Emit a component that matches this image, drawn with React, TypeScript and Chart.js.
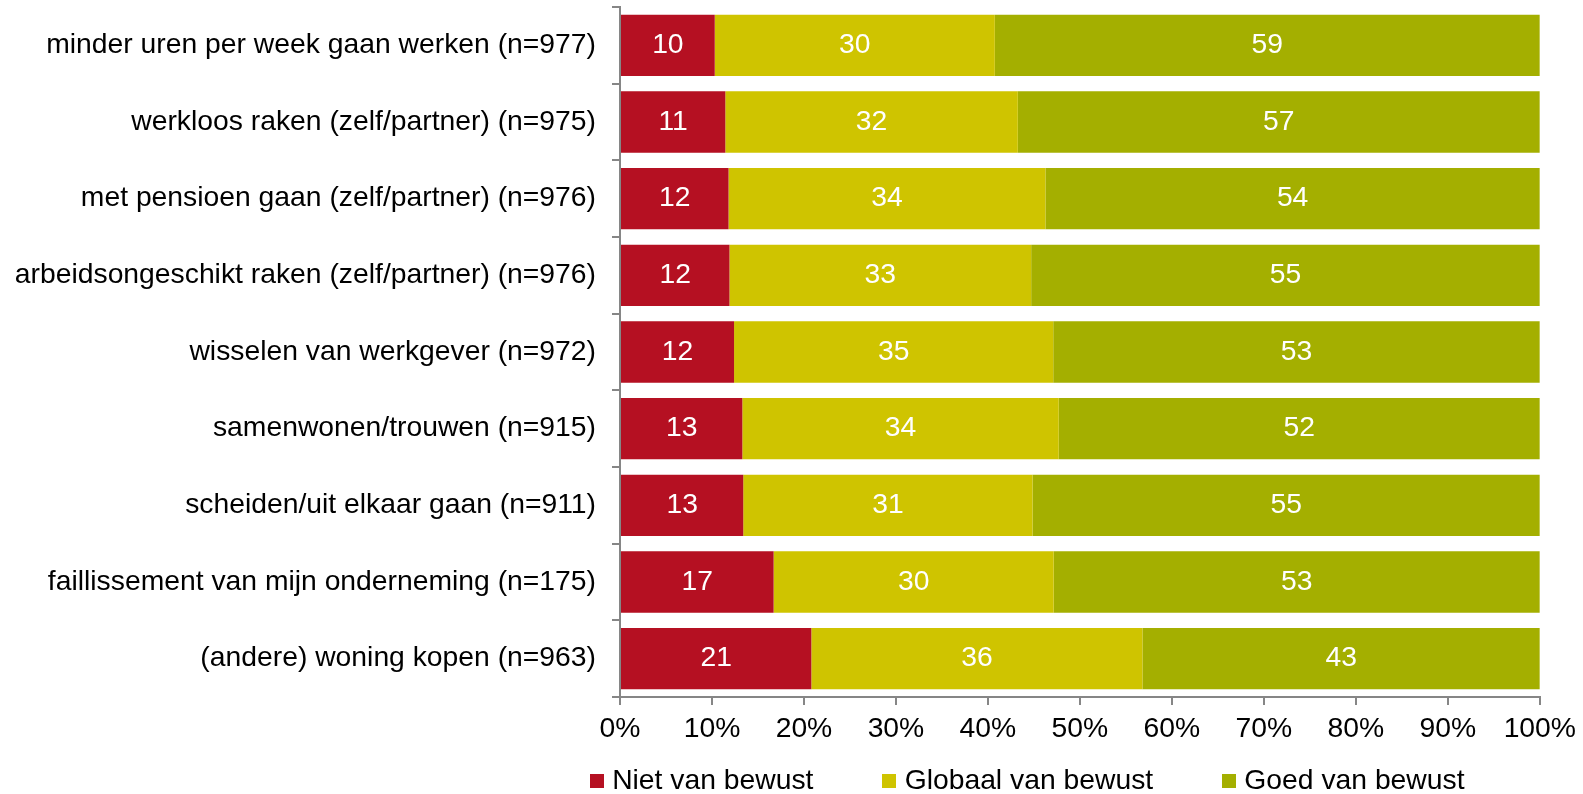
import React, { useEffect, useRef } from "react";
import { Chart, registerables } from "chart.js";

Chart.register(...registerables);

const categories = [
  "minder uren per week gaan werken (n=977)",
  "werkloos raken (zelf/partner) (n=975)",
  "met pensioen gaan (zelf/partner) (n=976)",
  "arbeidsongeschikt raken (zelf/partner) (n=976)",
  "wisselen van werkgever (n=972)",
  "samenwonen/trouwen (n=915)",
  "scheiden/uit elkaar gaan (n=911)",
  "faillissement van mijn onderneming (n=175)",
  "(andere) woning kopen (n=963)",
];

const nietVanBewust = [10.3, 11.45, 11.8, 11.9, 12.4, 13.3, 13.4, 16.7, 20.8];
const globaalVanBewust = [30.45, 31.8, 34.45, 32.8, 34.7, 34.4, 31.45, 30.45, 36.0];
const goedVanBewust = [59.25, 56.75, 53.75, 55.3, 52.9, 52.3, 55.15, 52.85, 43.2];

const seriesNames = ["Niet van bewust", "Globaal van bewust", "Goed van bewust"];
const seriesColors = ["#B51022", "#CFC400", "#A4AF00"];

const xTickValues = [0, 10, 20, 30, 40, 50, 60, 70, 80, 90, 100];

const FONT_FAMILY = '"Liberation Sans", Arial, Helvetica, sans-serif';
const FONT_SIZE = 28.3;
const AXIS_COLOR = "#868686";

function makeSwatch(color: string): HTMLCanvasElement {
  const c = document.createElement("canvas");
  c.width = 14;
  c.height = 14;
  const g = c.getContext("2d");
  if (g) {
    g.fillStyle = color;
    g.fillRect(0, 0, 14, 14);
  }
  return c;
}

const valueLabels = {
  id: "valueLabels",
  afterDatasetsDraw(chart: any) {
    const ctx = chart.ctx;
    ctx.save();
    ctx.font = `${FONT_SIZE}px ${FONT_FAMILY}`;
    ctx.fillStyle = "#ffffff";
    ctx.textAlign = "center";
    ctx.textBaseline = "middle";
    chart.data.datasets.forEach((ds: any, di: number) => {
      const meta = chart.getDatasetMeta(di);
      meta.data.forEach((el: any, i: number) => {
        const p = el.getCenterPoint();
        ctx.fillText(String(Math.round(ds.data[i])), p.x, p.y);
      });
    });
    ctx.restore();
  },
};

const LEGEND_PAD = 75;

const legendPlacement = {
  id: "legendPlacement",
  afterLayout(chart: any) {
    const lg = chart.legend;
    if (!lg) return;
    lg.left = 596 - LEGEND_PAD;
    lg.right = 1583;
    lg.width = lg.right - lg.left;
    lg.top = 767 - LEGEND_PAD;
    lg.bottom = 794;
    lg.height = lg.bottom - lg.top;
  },
};

export default function App() {
  const canvasRef = useRef<HTMLCanvasElement | null>(null);

  useEffect(() => {
    if (!canvasRef.current) return;
    const swatches = seriesColors.map(makeSwatch);
    const chart = new Chart(canvasRef.current, {
      type: "bar",
      data: {
        labels: categories,
        datasets: [nietVanBewust, globaalVanBewust, goedVanBewust].map((d, i) => ({
          label: seriesNames[i],
          data: d,
          backgroundColor: seriesColors[i],
          borderWidth: 0,
          barPercentage: 0.8,
          categoryPercentage: 1.0,
        })),
      },
      options: {
        indexAxis: "y",
        animation: false,
        responsive: false,
        devicePixelRatio: 1,
        layout: { padding: { top: 7, right: 41, left: 0, bottom: 0 } },
        scales: {
          x: {
            stacked: true,
            min: 0,
            max: 100,
            afterBuildTicks: (s: any) => {
              s.ticks = xTickValues.map((v) => ({ value: v }));
            },
            afterFit: (s: any) => {
              s.height = 47;
            },
            ticks: {
              callback: (v: any) => `${v}%`,
              color: "#000",
              padding: 7,
              maxRotation: 0,
              font: { family: FONT_FAMILY, size: FONT_SIZE },
            },
            grid: {
              display: true,
              drawOnChartArea: false,
              drawTicks: true,
              tickLength: 8,
              color: AXIS_COLOR,
              lineWidth: 2,
            },
            border: { display: true, color: AXIS_COLOR, width: 2 },
          },
          y: {
            stacked: true,
            offset: true,
            z: 1,
            afterFit: (s: any) => {
              s.width = 620;
              s.paddingTop = 0;
              s.paddingBottom = 0;
            },
            ticks: {
              color: "#000",
              padding: 16,
              autoSkip: false,
              font: { family: FONT_FAMILY, size: FONT_SIZE },
            },
            grid: {
              display: true,
              offset: true,
              drawOnChartArea: false,
              drawTicks: true,
              tickLength: 8,
              color: AXIS_COLOR,
              lineWidth: 2,
            },
            border: { display: true, color: AXIS_COLOR, width: 2 },
          },
        },
        plugins: {
          legend: {
            display: true,
            position: "bottom",
            align: "start",
            maxHeight: 50,
            labels: {
              usePointStyle: true,
              pointStyleWidth: 2,
              boxHeight: 14,
              padding: LEGEND_PAD,
              color: "#000",
              font: { family: FONT_FAMILY, size: FONT_SIZE },
              generateLabels: (ch: any) => {
                const items = Chart.defaults.plugins.legend.labels.generateLabels(ch);
                return items.map((it: any, i: number) => ({
                  ...it,
                  pointStyle: swatches[i],
                  lineWidth: 0,
                }));
              },
            },
          },
          tooltip: { enabled: false },
          title: { display: false },
        },
      },
      plugins: [valueLabels, legendPlacement],
    } as any);
    return () => chart.destroy();
  }, []);

  return (
    <div style={{ position: "fixed", left: 0, top: 0, width: 1583, height: 794, background: "#fff" }}>
      <canvas ref={canvasRef} width={1583} height={794} style={{ display: "block" }} />
    </div>
  );
}
